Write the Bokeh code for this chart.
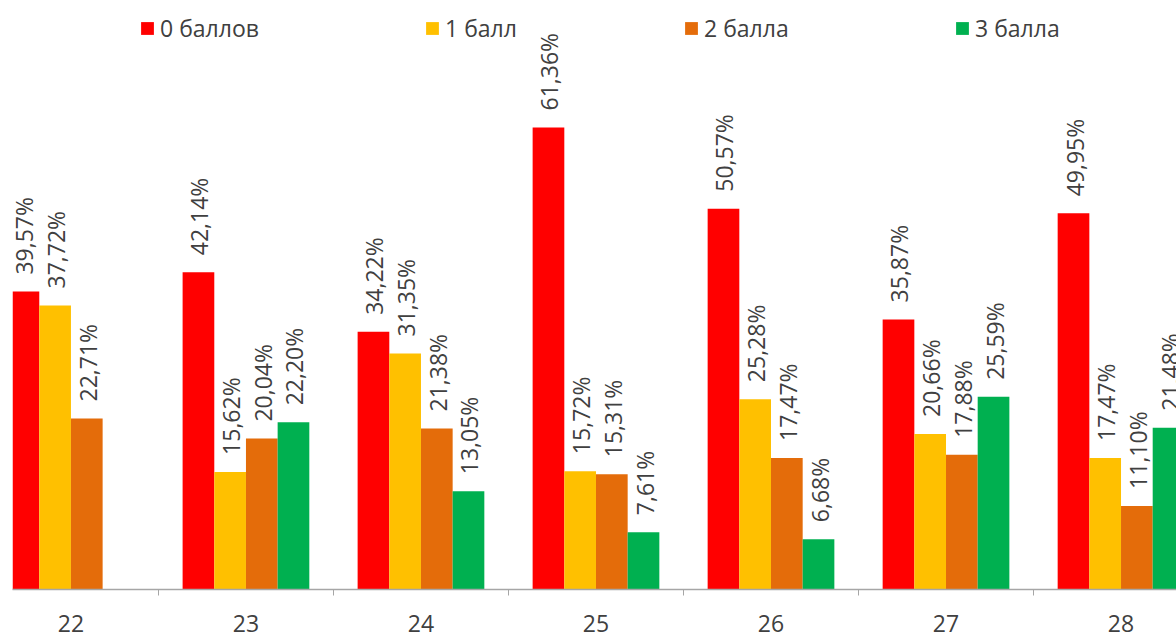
import math
from bokeh.plotting import figure
from bokeh.models import ColumnDataSource, FixedTicker, Legend, LegendItem, Range1d
from bokeh.core.properties import value
from bokeh.embed import file_html
from bokeh.resources import INLINE

# ---- data ----
categories = ["22", "23", "24", "25", "26", "27", "28"]
series_names = ["0 баллов", "1 балл", "2 балла", "3 балла"]
s0 = [39.57, 42.14, 34.22, 61.36, 50.57, 35.87, 49.95]
s1 = [37.72, 15.62, 31.35, 15.72, 25.28, 20.66, 17.47]
s2 = [22.71, 20.04, 21.38, 15.31, 17.47, 17.88, 11.10]
s3 = [None, 22.20, 13.05, 7.61, 6.68, 25.59, 21.48]
colors = ["#FF0000", "#FFC000", "#E46C0A", "#00B050"]

FONT = "Open Sans"
TXT = "#404040"

p = figure(width=1176, height=636, output_backend="svg", toolbar_location=None,
           x_range=Range1d(-0.334, 6.317), y_range=Range1d(0, 78.22),
           min_border_left=12, min_border_right=0, min_border_top=0, min_border_bottom=47)
p.outline_line_color = None
p.grid.visible = False
p.yaxis.visible = False
p.background_fill_color = "white"

bw = 0.181
offsets = [-1.5 * bw, -0.5 * bw, 0.5 * bw, 1.5 * bw]
legend_x = [127, 412, 671, 942]
for k, vals in enumerate([s0, s1, s2, s3]):
    xs, tops, labels = [], [], []
    for i, v in enumerate(vals):
        if v is None:
            continue
        xs.append(i + offsets[k])
        tops.append(v)
        labels.append(f"{v:.2f}".replace(".", ",") + "%")
    src = ColumnDataSource(dict(x=xs, top=tops, label=labels))
    r = p.vbar(x="x", top="top", width=bw, bottom=0, source=src,
               fill_color=colors[k], line_color=None)
    p.text(x="x", y="top", text="label", source=src, angle=math.pi / 2,
           text_align="left", text_baseline="middle", y_offset=-17, x_offset=1,
           text_font=value(FONT), text_font_size="23px", text_color=TXT)
    lg = Legend(items=[LegendItem(label=series_names[k], renderers=[r])],
                orientation="horizontal", location=(legend_x[k], 545),
                label_standoff=5, glyph_width=16, glyph_height=16,
                padding=0, margin=0, border_line_color=None, background_fill_alpha=0,
                label_text_font=FONT, label_text_font_size="23px", label_text_color=TXT)
    p.add_layout(lg)

ax = p.xaxis[0]
ax.ticker = FixedTicker(ticks=list(range(len(categories))),
                        minor_ticks=[i + 0.5 for i in range(len(categories) - 1)])
ax.major_label_overrides = {i: c for i, c in enumerate(categories)}
ax.major_tick_out = 0
ax.major_tick_in = 0
ax.minor_tick_out = 6
ax.minor_tick_in = 0
ax.minor_tick_line_color = "#A6A6A6"
ax.axis_line_color = "#A6A6A6"
ax.axis_line_width = 1.3
ax.major_label_standoff = 19
ax.major_label_text_font = FONT
ax.major_label_text_font_size = "23px"
ax.major_label_text_color = TXT

open("out.html", "w").write(file_html(p, INLINE))
